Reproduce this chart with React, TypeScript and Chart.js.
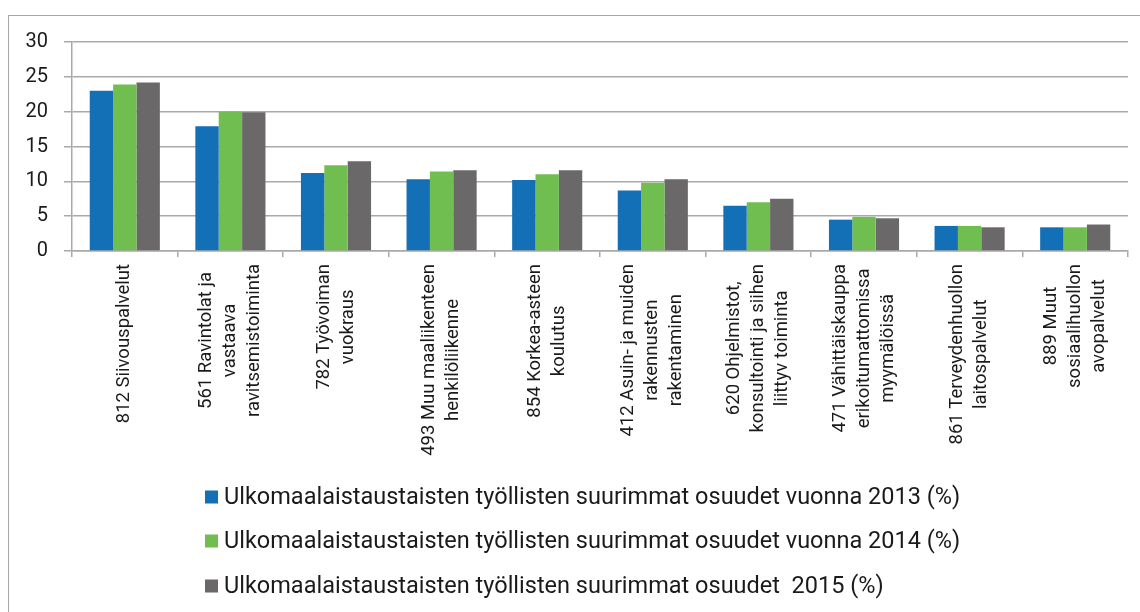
import React, { useEffect, useRef } from "react";
import { Chart, registerables } from "chart.js";

Chart.register(...registerables);

const categories: string[][] = [
  ["812 Siivouspalvelut"],
  ["561 Ravintolat ja", "vastaava", "ravitsemistoiminta"],
  ["782 Työvoiman", "vuokraus"],
  ["493 Muu maaliikenteen", "henkilöliikenne"],
  ["854 Korkea-asteen", "koulutus"],
  ["412 Asuin- ja muiden", "rakennusten", "rakentaminen"],
  ["620 Ohjelmistot,", "konsultointi ja siihen", "liittyv toiminta"],
  ["471 Vähittäiskauppa", "erikoitumattomissa", "myymälöissä"],
  ["861 Terveydenhuollon", "laitospalvelut"],
  ["889 Muut", "sosiaalihuollon", "avopalvelut"],
];

const values2013 = [23.0, 17.9, 11.2, 10.3, 10.2, 8.7, 6.5, 4.5, 3.6, 3.4];
const values2014 = [23.9, 20.0, 12.3, 11.4, 11.0, 9.8, 7.0, 4.9, 3.6, 3.4];
const values2015 = [24.2, 19.9, 12.9, 11.6, 11.6, 10.3, 7.5, 4.7, 3.4, 3.8];

const seriesNames = [
  "Ulkomaalaistaustaisten työllisten suurimmat osuudet vuonna 2013 (%)",
  "Ulkomaalaistaustaisten työllisten suurimmat osuudet vuonna 2014 (%)",
  "Ulkomaalaistaustaisten työllisten suurimmat osuudet  2015 (%)",
];
const seriesColors = ["#1370b6", "#70be50", "#6a6868"];

const yMin = 0;
const yMax = 30;
const yStep = 5;

const FONT = "Roboto, 'Noto Sans', sans-serif";

const xLabelPlugin = {
  id: "xLabelPlugin",
  afterDraw(chart: any) {
    const ctx = chart.ctx;
    const xs = chart.scales.x;
    ctx.save();
    ctx.font = `18.5px ${FONT}`;
    ctx.fillStyle = "#1a1a1a";
    ctx.textAlign = "center";
    ctx.textBaseline = "middle";
    (chart.data.labels as string[][]).forEach((lab, i) => {
      const lines = Array.isArray(lab) ? lab : [lab];
      const maxW = Math.max(...lines.map((l) => ctx.measureText(l).width));
      const cx = xs.getPixelForValue(i);
      const cy = chart.chartArea.bottom + 13 + maxW / 2;
      ctx.save();
      ctx.translate(cx, cy);
      ctx.rotate(-Math.PI / 2);
      const n = lines.length;
      lines.forEach((l, j) => ctx.fillText(l, 0, (j - (n - 1) / 2) * 24));
      ctx.restore();
    });
    ctx.restore();
  },
};

const legendPlugin = {
  id: "customLegend",
  afterDraw(chart: any) {
    const ctx = chart.ctx;
    ctx.save();
    ctx.font = `23.5px ${FONT}`;
    ctx.textAlign = "left";
    ctx.textBaseline = "middle";
    const rowY = [497, 541, 586];
    chart.data.datasets.forEach((ds: any, i: number) => {
      const y = rowY[i];
      ctx.fillStyle = ds.backgroundColor;
      ctx.fillRect(205, y - 6.5, 13, 13);
      ctx.fillStyle = "#1a1a1a";
      ctx.fillText(ds.label, 224, y + 1);
    });
    ctx.restore();
  },
};

export default function App() {
  const canvasRef = useRef<HTMLCanvasElement | null>(null);

  useEffect(() => {
    document.body.style.margin = "0";
    const canvas = canvasRef.current;
    if (!canvas) return;
    const chart = new Chart(canvas, {
      type: "bar",
      data: {
        labels: categories,
        datasets: [values2013, values2014, values2015].map((vals, i) => ({
          label: seriesNames[i],
          data: vals,
          backgroundColor: seriesColors[i],
          borderWidth: 0,
          categoryPercentage: 0.664,
          barPercentage: 1,
        })),
      },
      options: {
        animation: false,
        responsive: false,
        maintainAspectRatio: false,
        layout: { padding: { left: 0, right: 12, top: 42, bottom: 0 } },
        plugins: {
          legend: { display: false },
          tooltip: { enabled: false },
          title: { display: false },
        },
        scales: {
          x: {
            grid: {
              display: true,
              offset: true,
              drawOnChartArea: false,
              drawTicks: true,
              tickLength: 6,
              color: "#a9a9a9",
              lineWidth: 1.5,
            },
            border: { display: true, color: "#a9a9a9", width: 1.5 },
            ticks: { display: false },
            afterFit: (scale: any) => {
              scale.height = 612 - 251;
            },
          },
          y: {
            min: yMin,
            max: yMax,
            ticks: {
              stepSize: yStep,
              color: "#1a1a1a",
              font: { family: FONT, size: 20 },
              padding: 16,
            },
            grid: {
              color: "#a9a9a9",
              lineWidth: 1.5,
              drawTicks: true,
              tickLength: 8,
            },
            border: { display: true, color: "#a9a9a9", width: 1.5 },
            afterFit: (scale: any) => {
              scale.width = 72;
            },
          },
        },
      },
      plugins: [xLabelPlugin, legendPlugin],
    });
    return () => chart.destroy();
  }, []);

  return (
    <div style={{ position: "relative", width: 1140, height: 612, background: "#fff" }}>
      <div
        style={{
          position: "absolute",
          left: 8,
          top: 15,
          width: 1132,
          height: 597,
          borderLeft: "1px solid #a6a6a6",
          borderTop: "1px solid #a6a6a6",
          boxSizing: "border-box",
        }}
      />
      <canvas
        ref={canvasRef}
        width={1140}
        height={612}
        style={{ position: "absolute", left: 0, top: 0, width: 1140, height: 612 }}
      />
    </div>
  );
}
